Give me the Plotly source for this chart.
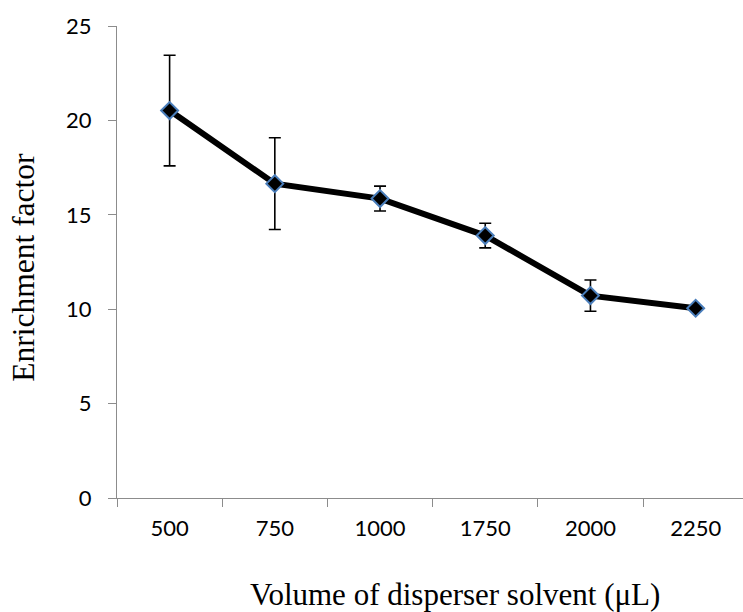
import plotly.graph_objects as go

# Enrichment factor vs. volume of disperser solvent
volumes = ["500", "750", "1000", "1750", "2000", "2250"]
enrichment = [20.52, 16.65, 15.86, 13.90, 10.72, 10.05]
std_dev = [2.93, 2.43, 0.66, 0.65, 0.83, 0.0]

y_ticks = [0, 5, 10, 15, 20, 25]

AXIS_GREY = "#8c8c8c"

fig = go.Figure()
fig.add_trace(go.Scatter(
    x=volumes,
    y=enrichment,
    mode="lines+markers",
    line=dict(color="black", width=6),
    marker=dict(symbol="diamond", size=13, color="black",
                line=dict(color="#4a7ebb", width=2)),
    error_y=dict(type="data", array=std_dev, visible=True,
                 color="black", thickness=1.6, width=6),
    showlegend=False,
))

fig.update_layout(
    width=743, height=612,
    margin=dict(l=117, r=0, t=26, b=113.5),
    paper_bgcolor="white", plot_bgcolor="white",
    font=dict(family="Lato", size=22, color="black"),
    xaxis=dict(
        type="category",
        categoryorder="array", categoryarray=volumes,
        range=[-0.5, 5.45],
        showline=True, linecolor=AXIS_GREY, linewidth=1.3,
        ticks="outside", tickson="boundaries", ticklen=8,
        tickcolor=AXIS_GREY, tickwidth=1.3,
        showgrid=False, zeroline=False,
        ticklabelstandoff=10,
    ),
    yaxis=dict(
        range=[0, 25],
        tickvals=y_ticks,
        showline=True, linecolor=AXIS_GREY, linewidth=1.3,
        ticks="outside", ticklen=8, tickcolor=AXIS_GREY, tickwidth=1.3,
        showgrid=False, zeroline=False,
        ticklabelstandoff=12,
    ),
    annotations=[
        dict(text="Volume of disperser solvent (μL)",
             xref="paper", yref="paper", x=0.54, y=-0.204,
             xanchor="center", yanchor="middle", showarrow=False,
             font=dict(family="Liberation Serif", size=31, color="black")),
        dict(text="Enrichment factor",
             xref="paper", yref="paper", x=-0.1486, y=0.49,
             xanchor="center", yanchor="middle", showarrow=False,
             textangle=-90,
             font=dict(family="Liberation Serif", size=31.5, color="black")),
    ],
)

fig.write_html("out.html")
